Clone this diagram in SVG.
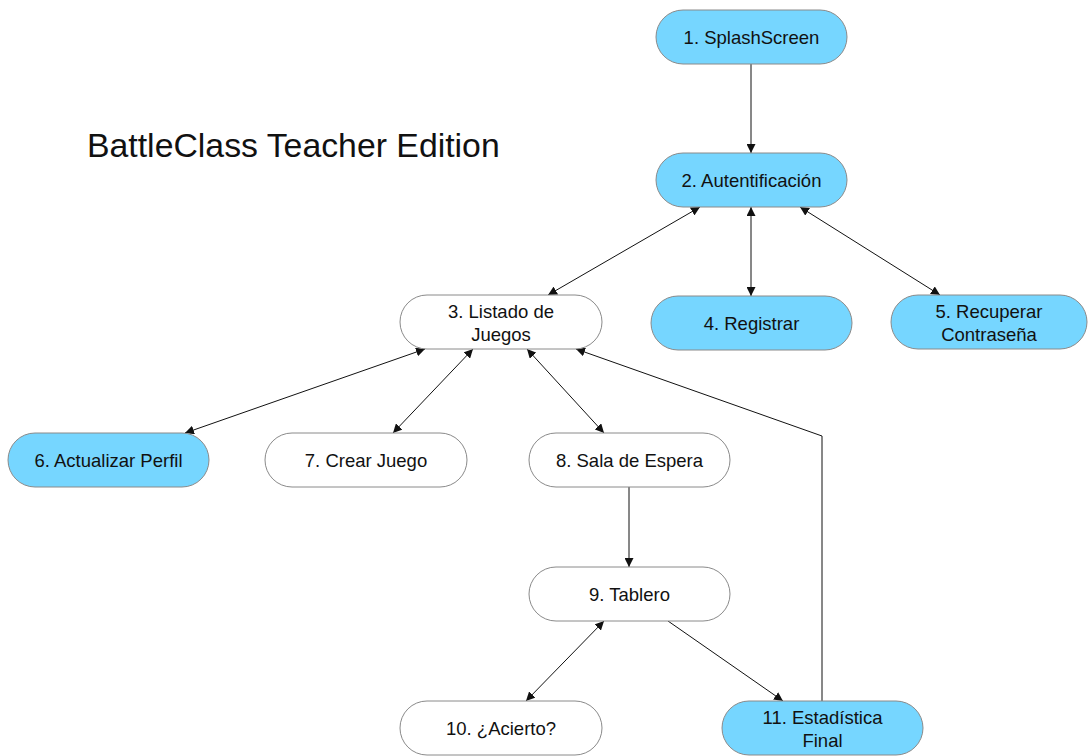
<svg xmlns="http://www.w3.org/2000/svg" width="1088" height="756" viewBox="0 0 1088 756">
  <style>
    .node rect { stroke: #8a8a8a; stroke-width: 1; }
    .blue rect { fill: #76d6ff; }
    .white rect { fill: #ffffff; }
    .node text { font-family: "Liberation Sans", Arial, sans-serif; font-size: 18.5px; fill: #111; text-anchor: middle; }
    .title { font-family: "Liberation Sans", Arial, sans-serif; font-size: 33.8px; fill: #111; }
    #connectors line, #connectors polyline { stroke: #111; stroke-width: 1; fill: none; }
  </style>
  <defs>
    <marker id="arrow" viewBox="0 0 10 10" refX="10" refY="5" markerWidth="9" markerHeight="9" markerUnits="userSpaceOnUse" orient="auto-start-reverse">
      <path d="M0,0 L10,5 L0,10 z" fill="#111"/>
    </marker>
  </defs>
  <rect width="1088" height="756" fill="#ffffff"/>

  <text class="title" x="87" y="157">BattleClass Teacher Edition</text>

  <g id="connectors">
    <line x1="751" y1="64" x2="751" y2="153" marker-end="url(#arrow)"/>
    <line x1="700" y1="207" x2="548" y2="295" marker-start="url(#arrow)" marker-end="url(#arrow)"/>
    <line x1="751" y1="207" x2="751" y2="296" marker-start="url(#arrow)" marker-end="url(#arrow)"/>
    <line x1="800" y1="207" x2="940" y2="295" marker-start="url(#arrow)" marker-end="url(#arrow)"/>
    <line x1="425" y1="349" x2="185" y2="433" marker-start="url(#arrow)" marker-end="url(#arrow)"/>
    <line x1="473" y1="349" x2="393" y2="433" marker-start="url(#arrow)" marker-end="url(#arrow)"/>
    <line x1="527" y1="349" x2="604" y2="433" marker-start="url(#arrow)" marker-end="url(#arrow)"/>
    <polyline points="822,701 822,436 576,349" marker-end="url(#arrow)"/>
    <line x1="629" y1="487" x2="629" y2="567" marker-end="url(#arrow)"/>
    <line x1="604" y1="621" x2="526" y2="701" marker-start="url(#arrow)" marker-end="url(#arrow)"/>
    <line x1="668" y1="621" x2="783" y2="701" marker-end="url(#arrow)"/>
  </g>

  <g id="n1" class="node blue">
    <rect x="656" y="10" width="191" height="54" rx="27"/>
    <text x="751.5" y="44">1. SplashScreen</text>
  </g>
  <g id="n2" class="node blue">
    <rect x="656" y="153" width="191" height="54" rx="27"/>
    <text x="751.5" y="187">2. Autentificación</text>
  </g>
  <g id="n3" class="node white">
    <rect x="400" y="295" width="202" height="54" rx="27"/>
    <text x="501" y="318">3. Listado de</text>
    <text x="501" y="341">Juegos</text>
  </g>
  <g id="n4" class="node blue">
    <rect x="651" y="296" width="201" height="54" rx="27"/>
    <text x="751.5" y="330">4. Registrar</text>
  </g>
  <g id="n5" class="node blue">
    <rect x="891" y="295" width="196" height="54" rx="27"/>
    <text x="989" y="318">5. Recuperar</text>
    <text x="989" y="341">Contraseña</text>
  </g>
  <g id="n6" class="node blue">
    <rect x="8" y="433" width="201" height="54" rx="27"/>
    <text x="108.5" y="467">6. Actualizar Perfil</text>
  </g>
  <g id="n7" class="node white">
    <rect x="265" y="433" width="202" height="54" rx="27"/>
    <text x="366" y="467">7. Crear Juego</text>
  </g>
  <g id="n8" class="node white">
    <rect x="529" y="433" width="201" height="54" rx="27"/>
    <text x="629.5" y="467">8. Sala de Espera</text>
  </g>
  <g id="n9" class="node white">
    <rect x="529" y="567" width="201" height="54" rx="27"/>
    <text x="629.5" y="601">9. Tablero</text>
  </g>
  <g id="n10" class="node white">
    <rect x="400" y="701" width="202" height="54" rx="27"/>
    <text x="501" y="735">10. ¿Acierto?</text>
  </g>
  <g id="n11" class="node blue">
    <rect x="722" y="701" width="201" height="54" rx="27"/>
    <text x="822.5" y="724">11. Estadística</text>
    <text x="822.5" y="747">Final</text>
  </g>
</svg>
